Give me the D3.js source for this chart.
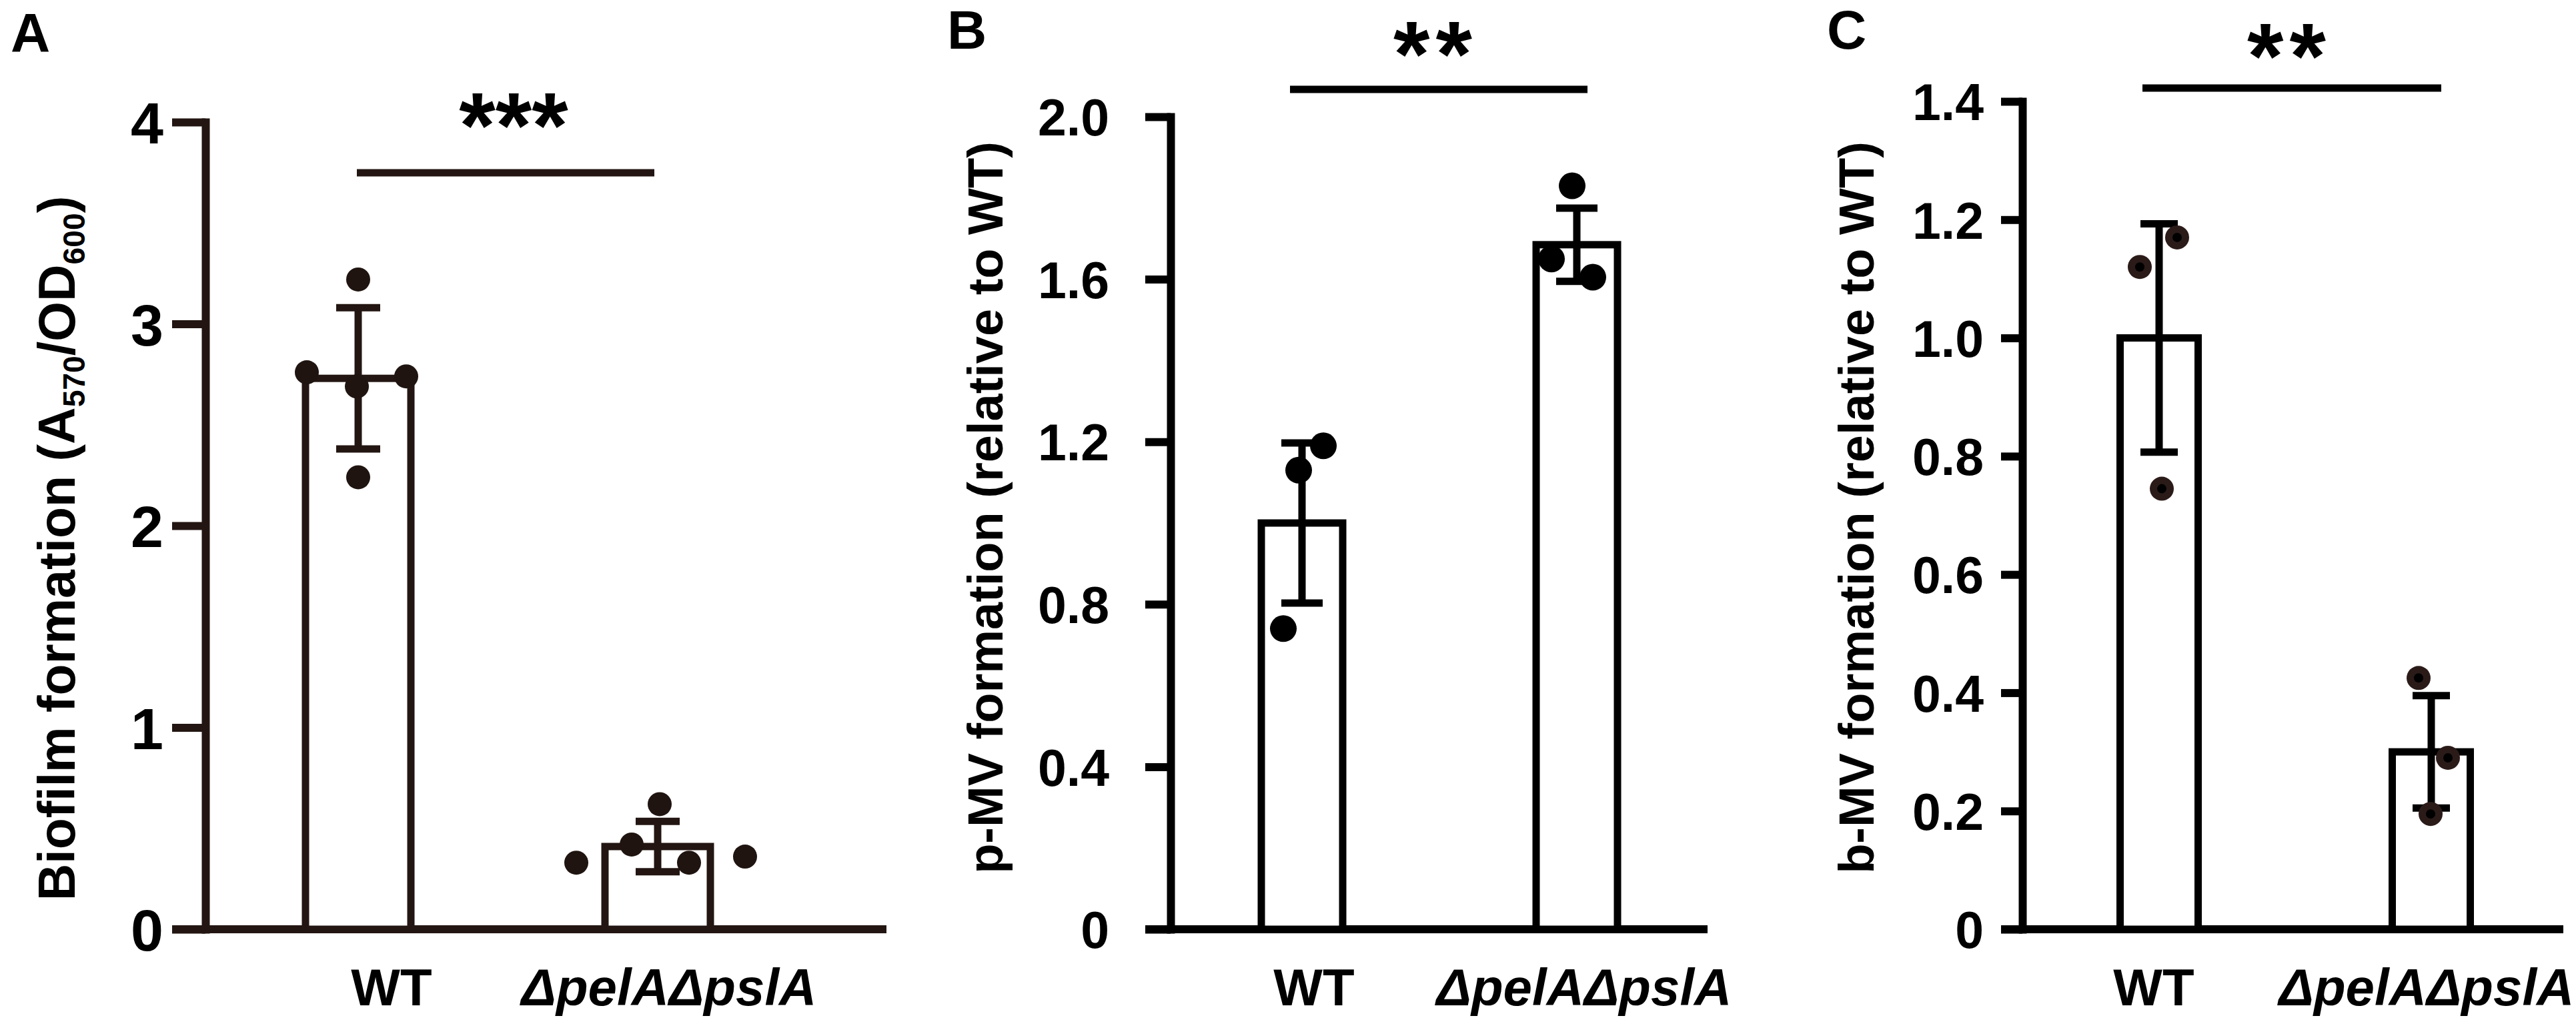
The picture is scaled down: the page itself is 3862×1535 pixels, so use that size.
<!DOCTYPE html>
<html>
<head>
<meta charset="utf-8">
<script src="https://cdn.jsdelivr.net/npm/d3@7"></script>
<style>
  body { margin: 0; background: #fff; }
  text { font-family: Arial, "Liberation Sans", sans-serif; font-weight: bold; }
</style>
</head>
<body>
<div id="chart"></div>
<script>
// groups on the x axis (same in all three panels)
const groups = ["WT", "ΔpelAΔpslA"];

// A: biofilm formation (A570/OD600)
const biofilmMean = [2.73, 0.41];
const biofilmSD = [0.35, 0.125];
const biofilmPoints = [[3.22, 2.76, 2.74, 2.69, 2.24], [0.33, 0.42, 0.62, 0.33, 0.36]];
const biofilmTicks = [0, 1, 2, 3, 4];

// B: p-MV formation (relative to WT)
const pmvMean = [1.0, 1.685];
const pmvSD = [0.197, 0.09];
const pmvPoints = [[0.74, 1.13, 1.19], [1.83, 1.65, 1.605]];
const pmvTicks = [0, 0.4, 0.8, 1.2, 1.6, 2.0];

// C: b-MV formation (relative to WT)
const bmvMean = [1.0, 0.30];
const bmvSD = [0.193, 0.095];
const bmvPoints = [[1.12, 1.17, 0.745], [0.425, 0.29, 0.195]];
const bmvTicks = [0, 0.2, 0.4, 0.6, 0.8, 1.0, 1.2, 1.4];

const significance = ["***", "**", "**"];
const panelLetters = ["A", "B", "C"];

const width = 3862, height = 1535;

// layout of each panel (pixels), kept apart from the values above
const panels = [
  {
    mean: biofilmMean, sd: biofilmSD, points: biofilmPoints, ticks: biofilmTicks,
    fmt: d3.format("d"), yMax: 4,
    yLabel: [["Biofilm formation (A", 0], ["570", 1], ["/OD", 0], ["600", 1], [")", 0]],
    axisX: 308, yTop: 183, yBottom: 1393, xEnd: 1329, centers: [537, 986],
    barW: 158, capW: 66, r: 18, tickLen: 50, tickPad: 13, tickFont: 88,
    labelShift: [50, 17], jitter: [[0, -77, 72, -2, 0], [-122, -39, 3, 47, 131]],
    sigY: 259, sigX: [535, 981], starX: 770, starY: 236, starGap: 0,
    letterX: 16, letterY: 77, yLabelX: 112, yLabelY: 822, yLabelFont: 77,
    ink: "#231612", dot: "#1f1410", core: null
  },
  {
    mean: pmvMean, sd: pmvSD, points: pmvPoints, ticks: pmvTicks,
    fmt: d => d === 0 ? "0" : d3.format(".1f")(d), yMax: 2.0,
    yLabel: [["p-MV formation (relative to WT)", 0]],
    axisX: 1755, yTop: 175, yBottom: 1393, xEnd: 2560, centers: [1952, 2364],
    barW: 122, capW: 62, r: 20, tickLen: 38, tickPad: 54, tickFont: 77,
    labelShift: [18, 11], jitter: [[-28, -5, 32], [-7, -38, 24]],
    sigY: 134, sigX: [1934, 2380], starX: 2148, starY: 129, starGap: 9,
    letterX: 1420, letterY: 73, yLabelX: 1503, yLabelY: 761, yLabelFont: 74,
    ink: "#000", dot: "#000", core: null
  },
  {
    mean: bmvMean, sd: bmvSD, points: bmvPoints, ticks: bmvTicks,
    fmt: d => d === 0 ? "0" : d3.format(".1f")(d), yMax: 1.4,
    yLabel: [["b-MV formation (relative to WT)", 0]],
    axisX: 3032, yTop: 152, yBottom: 1393, xEnd: 3843, centers: [3237, 3645],
    barW: 117, capW: 56, r: 18, tickLen: 32, tickPad: 26, tickFont: 77,
    labelShift: [-8, -7], jitter: [[-29, 27, 4], [-19, 25, -1]],
    sigY: 132, sigX: [3212, 3660], starX: 3428, starY: 132, starGap: 9,
    letterX: 2739, letterY: 73, yLabelX: 2809, yLabelY: 761, yLabelFont: 74,
    ink: "#000", dot: "#2b1b18", core: "#000"
  }
];

const svg = d3.select("#chart")
  .append("svg")
  .attr("width", width)
  .attr("height", height)
  .style("background-color", "#fff");

panels.forEach((p, i) => {
  const g = svg.append("g");

  const y = d3.scaleLinear().domain([0, p.yMax]).range([p.yBottom, p.yTop]);
  const x = d3.scalePoint().domain(groups).range(p.centers);

  // y axis
  const yAxis = d3.axisLeft(y)
    .tickValues(p.ticks)
    .tickFormat(p.fmt)
    .tickSize(p.tickLen)
    .tickSizeOuter(0)
    .tickPadding(p.tickPad);

  const ax = g.append("g")
    .attr("transform", `translate(${p.axisX},0)`)
    .call(yAxis);
  ax.select(".domain").attr("stroke", p.ink).attr("stroke-width", 12).attr("stroke-linecap", "square");
  ax.selectAll(".tick line").attr("stroke", p.ink).attr("stroke-width", 12);
  ax.selectAll(".tick text")
    .attr("fill", "#000")
    .attr("font-size", p.tickFont)
    .attr("font-family", "Arial, 'Liberation Sans', sans-serif")
    .attr("font-weight", "bold")
    .attr("dy", "0.36em");

  // x axis baseline
  g.append("line")
    .attr("x1", p.axisX - p.tickLen).attr("x2", p.xEnd)
    .attr("y1", y(0)).attr("y2", y(0))
    .attr("stroke", p.ink).attr("stroke-width", 12);

  // bars
  g.selectAll("rect.bar")
    .data(groups)
    .join("rect")
    .attr("class", "bar")
    .attr("x", d => x(d) - p.barW / 2)
    .attr("width", p.barW)
    .attr("y", (d, j) => y(p.mean[j]))
    .attr("height", (d, j) => y(0) - y(p.mean[j]))
    .attr("fill", "#fff")
    .attr("stroke", p.ink)
    .attr("stroke-width", 11);

  // error bars (mean ± SD)
  const err = g.selectAll("g.err")
    .data(groups)
    .join("g")
    .attr("class", "err");
  err.append("line")
    .attr("x1", d => x(d)).attr("x2", d => x(d))
    .attr("y1", (d, j) => y(p.mean[j] - p.sd[j]))
    .attr("y2", (d, j) => y(p.mean[j] + p.sd[j]))
    .attr("stroke", p.ink).attr("stroke-width", 11);
  [-1, 1].forEach(s => {
    err.append("line")
      .attr("x1", d => x(d) - p.capW / 2).attr("x2", d => x(d) + p.capW / 2)
      .attr("y1", (d, j) => y(p.mean[j] + s * p.sd[j]))
      .attr("y2", (d, j) => y(p.mean[j] + s * p.sd[j]))
      .attr("stroke", p.ink).attr("stroke-width", 11);
  });

  // individual replicates
  const pts = groups.flatMap((grp, j) =>
    p.points[j].map((v, k) => ({ grp, v, dx: p.jitter[j][k] })));
  g.selectAll("circle.pt")
    .data(pts)
    .join("circle")
    .attr("class", "pt")
    .attr("cx", d => x(d.grp) + d.dx)
    .attr("cy", d => y(d.v))
    .attr("r", p.r)
    .attr("fill", p.dot);
  if (p.core) {
    g.selectAll("circle.core")
      .data(pts)
      .join("circle")
      .attr("class", "core")
      .attr("cx", d => x(d.grp) + d.dx)
      .attr("cy", d => y(d.v))
      .attr("r", 7)
      .attr("fill", p.core);
  }

  // x labels
  g.selectAll("text.xl")
    .data(groups)
    .join("text")
    .attr("class", "xl")
    .attr("x", (d, j) => x(d) + p.labelShift[j])
    .attr("y", 1507)
    .attr("text-anchor", "middle")
    .attr("font-size", 78)
    .attr("font-style", (d, j) => j === 1 ? "italic" : "normal")
    .text(d => d);

  // y label
  const yl = g.append("text")
    .attr("transform", `translate(${p.yLabelX},${p.yLabelY}) rotate(-90)`)
    .attr("text-anchor", "middle")
    .attr("font-size", p.yLabelFont);
  let shifted = 0;
  p.yLabel.forEach(([t, sub]) => {
    const dy = sub ? 15 - shifted : -shifted;
    yl.append("tspan")
      .attr("dy", dy)
      .attr("font-size", sub ? p.yLabelFont * 0.6 : p.yLabelFont)
      .text(t);
    shifted = sub ? 15 : 0;
  });

  // significance bracket
  g.append("line")
    .attr("x1", p.sigX[0]).attr("x2", p.sigX[1])
    .attr("y1", p.sigY).attr("y2", p.sigY)
    .attr("stroke", p.ink).attr("stroke-width", 11);
  g.append("text")
    .attr("x", p.starX + p.starGap / 2).attr("y", p.starY)
    .attr("text-anchor", "middle")
    .attr("font-size", 140)
    .attr("letter-spacing", p.starGap)
    .text(significance[i]);

  // panel letter
  g.append("text")
    .attr("x", p.letterX).attr("y", p.letterY)
    .attr("font-size", 82)
    .text(panelLetters[i]);
});
</script>
</body>
</html>
